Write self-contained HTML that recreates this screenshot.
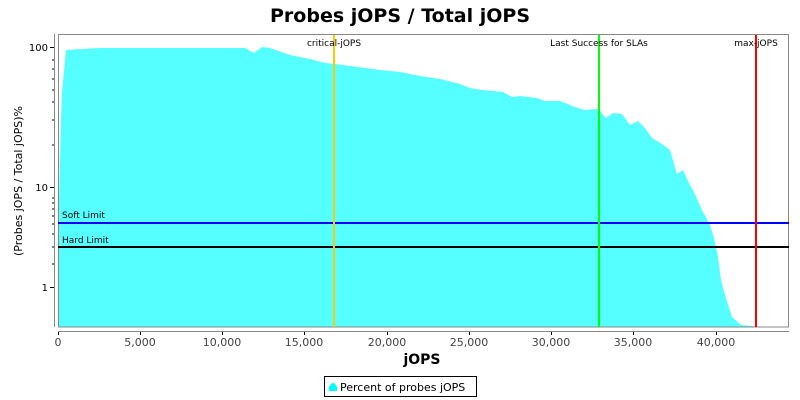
<!DOCTYPE html>
<html><head><meta charset="utf-8"><style>
html,body{margin:0;padding:0;background:#fff;}
svg{display:block;font-family:"DejaVu Sans","Liberation Sans",sans-serif;}
</style></head><body>
<svg width="800" height="400" viewBox="0 0 800 400" xmlns="http://www.w3.org/2000/svg">
<rect width="800" height="400" fill="#fff"/>
<text x="400" y="22" text-anchor="middle" font-size="19" font-weight="bold">Probes jOPS / Total jOPS</text>
<!-- area -->
<polygon fill="#55FFFF" points="58,327 59,200 61,120 62,92 66,50 100,48 230,48 245,48 254,53 262,47 270,48 290,55 310,59 325,63 335,64 380,70 400,72 420,76 440,79 460,84 470,88 482,90 503,92 512,97 520,96 537,98 545,101 560,101 575,107 584,110 598,109 600,111 606,118 613,113 622,114 630,125 638,121 645,128 652,138 662,144 670,150 677,174 683,170 690,185 693,190 702,210 710,225 714,238 718,257 721,280 725,295 732,317 741,325 765,327"/>
<!-- plot border -->
<rect x="58.5" y="34.5" width="730" height="292.5" fill="none" stroke="#888" stroke-width="1"/>
<!-- limits -->
<line x1="58" y1="223" x2="789" y2="223" stroke="#0000FF" stroke-width="2"/>
<line x1="58" y1="247" x2="789" y2="247" stroke="#000" stroke-width="2"/>
<text x="62" y="218" font-size="9">Soft Limit</text>
<text x="62" y="243" font-size="9">Hard Limit</text>
<!-- markers -->
<line x1="334" y1="35" x2="334" y2="327" stroke="#FFC800" stroke-width="2"/>
<line x1="599" y1="35" x2="599" y2="327" stroke="#00FF00" stroke-width="2"/>
<line x1="756" y1="35" x2="756" y2="327" stroke="#FF0000" stroke-width="2"/>
<text x="334" y="46" font-size="9" text-anchor="middle">critical-jOPS</text>
<text x="599" y="46" font-size="9" text-anchor="middle">Last Success for SLAs</text>
<text x="756" y="46" font-size="9" text-anchor="middle">max-jOPS</text>
<!-- y axis -->
<line x1="54.5" y1="34" x2="54.5" y2="327" stroke="#888"/>
<g stroke="#000" stroke-width="1">
<line x1="50" y1="47.5" x2="54" y2="47.5"/>
<line x1="50" y1="187.5" x2="54" y2="187.5"/>
<line x1="50" y1="287.5" x2="54" y2="287.5"/>
<line x1="52" y1="60" x2="54" y2="60"/><line x1="52" y1="69" x2="54" y2="69"/><line x1="52" y1="79" x2="54" y2="79"/><line x1="52" y1="90" x2="54" y2="90"/><line x1="52" y1="102" x2="54" y2="102"/><line x1="52" y1="120" x2="54" y2="120"/><line x1="52" y1="145" x2="54" y2="145"/>
<line x1="52" y1="198" x2="54" y2="198"/><line x1="52" y1="203" x2="54" y2="203"/><line x1="52" y1="209" x2="54" y2="209"/><line x1="52" y1="216" x2="54" y2="216"/><line x1="52" y1="224" x2="54" y2="224"/><line x1="52" y1="234" x2="54" y2="234"/><line x1="52" y1="247" x2="54" y2="247"/><line x1="52" y1="264" x2="54" y2="264"/>
</g>
<g font-size="10" text-anchor="end">
<text x="48" y="51">100</text>
<text x="48" y="191">10</text>
<text x="48" y="291">1</text>
</g>
<text transform="translate(22,181) rotate(-90)" font-size="11" text-anchor="middle">(Probes jOPS / Total jOPS)%</text>
<!-- x axis -->
<line x1="58" y1="331.5" x2="789" y2="331.5" stroke="#888"/>
<g stroke="#000">
<line x1="58.5" y1="332" x2="58.5" y2="335"/><line x1="140.5" y1="332" x2="140.5" y2="335"/><line x1="222.5" y1="332" x2="222.5" y2="335"/><line x1="304.5" y1="332" x2="304.5" y2="335"/><line x1="387.5" y1="332" x2="387.5" y2="335"/><line x1="469.5" y1="332" x2="469.5" y2="335"/><line x1="551.5" y1="332" x2="551.5" y2="335"/><line x1="633.5" y1="332" x2="633.5" y2="335"/><line x1="716.5" y1="332" x2="716.5" y2="335"/>
</g>
<g font-size="11" text-anchor="middle" fill="#444">
<text x="58" y="346">0</text><text x="140" y="346">5,000</text><text x="222" y="346">10,000</text><text x="304" y="346">15,000</text><text x="387" y="346">20,000</text><text x="469" y="346">25,000</text><text x="551" y="346">30,000</text><text x="633" y="346">35,000</text><text x="716" y="346">40,000</text>
</g>
<text x="422" y="364" font-size="14" font-weight="bold" text-anchor="middle">jOPS</text>
<!-- legend -->
<rect x="324.5" y="376.5" width="152" height="20" fill="#fff" stroke="#000"/>
<path d="M329,391 L329,387 Q331,383 333,383 Q335,383 337,387 L337,391 Z" fill="#00FFFF"/>
<text x="340" y="391" font-size="11">Percent of probes jOPS</text>
</svg>
</body></html>
